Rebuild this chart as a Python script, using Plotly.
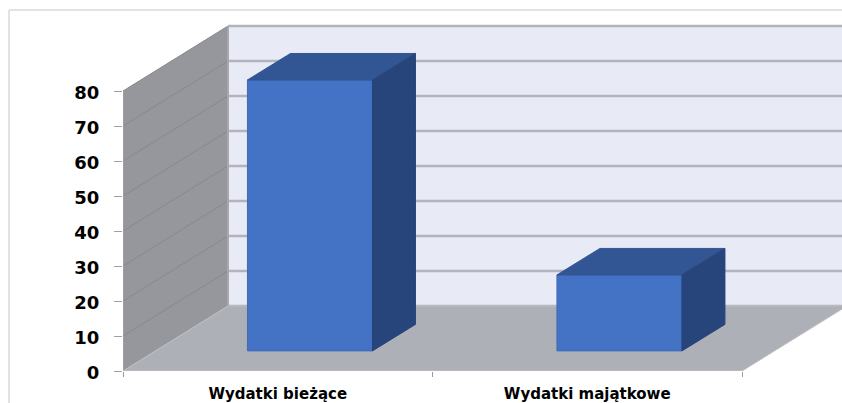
import plotly.graph_objects as go

categories = ["Wydatki bieżące", "Wydatki majątkowe"]
values = [77.4, 21.7]
y_ticks = [0, 10, 20, 30, 40, 50, 60, 70, 80]
x_edges = [0, 1, 2]
slots = [0.5, 1.5]

# Chart geometry in axis units
PX_X, PX_Y = 309.5, 3.5
W, H = 842, 403
ML, MB = 123, 32
WALL_DX, WALL_DY = 105 / PX_X, 65 / PX_Y
BAR_W = 125 / PX_X
BAR_SHIFT = 0.104
BAR_LIFT = 5.75
BAR_DX, BAR_DY = 43 / PX_X, 26.5 / PX_Y
XMAX = (W - ML) / PX_X
YMAX = (H - MB) / PX_Y
YTOP = y_ticks[-1]
FLOOR_R = x_edges[-1]

FRONT, TOP, SIDE = "#4472c4", "#325694", "#27457b"
BACK, GRID, SIDE_WALL, SIDE_GRID, FLOOR = "#e8eaf6", "#b3b4ba", "#96979c", "#87888c", "#aeb0b8"


def poly(pts):
    return "M " + " L ".join(f"{x} {y}" for x, y in pts) + " Z"


shapes = [
    dict(type="path", xref="x", yref="y", layer="below", line_width=0, fillcolor=BACK,
         path=poly([(WALL_DX, WALL_DY), (WALL_DX, YTOP + WALL_DY), (XMAX, YTOP + WALL_DY), (XMAX, WALL_DY)])),
    dict(type="path", xref="x", yref="y", layer="below", line_width=0, fillcolor=SIDE_WALL,
         path=poly([(0, 0), (0, YTOP), (WALL_DX, YTOP + WALL_DY), (WALL_DX, WALL_DY)])),
]
for t in y_ticks:
    if t > 0:
        shapes.append(dict(type="line", xref="x", yref="y", layer="below", x0=0, y0=t, x1=WALL_DX, y1=t + WALL_DY,
                           line=dict(color=SIDE_GRID, width=1)))
    shapes.append(dict(type="line", xref="x", yref="y", layer="below", x0=WALL_DX, y0=t + WALL_DY, x1=XMAX,
                       y1=t + WALL_DY, line=dict(color=GRID, width=2.5)))
shapes += [
    dict(type="path", xref="x", yref="y", layer="below", fillcolor=FLOOR, line=dict(color="#bdbdc2", width=1),
         path=poly([(0, 0), (WALL_DX, WALL_DY), (FLOOR_R + WALL_DX, WALL_DY), (FLOOR_R, 0)])),
    dict(type="line", xref="x", yref="y", layer="below", x0=WALL_DX, y0=WALL_DY, x1=WALL_DX, y1=YTOP + WALL_DY,
         line=dict(color="#a8a8ac", width=2)),
    dict(type="line", xref="x", yref="y", layer="below", x0=0, y0=0, x1=x_edges[-1], y1=0,
         line=dict(color="#b9b9bc", width=2)),
    dict(type="line", xref="x", yref="y", layer="below", x0=0, y0=0, x1=0, y1=YTOP,
         line=dict(color="#a8a8ac", width=1)),
]
# Outer chart frame
fx = lambda p: (p - ML) / (W - ML)
fy = lambda p: (H - MB - p) / (H - MB)
shapes += [
    dict(type="line", xref="paper", yref="paper", x0=fx(9), y0=fy(10), x1=1, y1=fy(10),
         line=dict(color="#d9d9d9", width=1.5)),
    dict(type="line", xref="paper", yref="paper", x0=fx(9), y0=fy(10), x1=fx(9), y1=fy(403),
         line=dict(color="#d9d9d9", width=1.5)),
]

fig = go.Figure()
centers = [s + BAR_SHIFT for s in slots]
fig.add_trace(go.Bar(x=centers, y=values, base=[BAR_LIFT] * len(values), width=BAR_W,
                     marker=dict(color=FRONT, line=dict(color="#3f6ab8", width=1)), showlegend=False))
for c, v in zip(centers, values):
    l, r = c - BAR_W / 2, c + BAR_W / 2
    b, t = BAR_LIFT, BAR_LIFT + v
    fig.add_trace(go.Scatter(x=[l, r, r + BAR_DX, l + BAR_DX, l], y=[t, t, t + BAR_DY, t + BAR_DY, t],
                             mode="lines", fill="toself", fillcolor=TOP, line=dict(color=TOP, width=1),
                             showlegend=False, hoverinfo="skip"))
    fig.add_trace(go.Scatter(x=[r, r + BAR_DX, r + BAR_DX, r, r], y=[b, b + BAR_DY, t + BAR_DY, t, b],
                             mode="lines", fill="toself", fillcolor=SIDE, line=dict(color=SIDE, width=1),
                             showlegend=False, hoverinfo="skip"))

fig.update_layout(
    width=W, height=H, autosize=False,
    margin=dict(l=ML, r=0, t=0, b=MB, pad=0, autoexpand=False),
    paper_bgcolor="white", plot_bgcolor="white",
    shapes=shapes,
    font=dict(family="DejaVu Sans", color="black"),
    xaxis=dict(range=[0, XMAX], tickmode="array", tickvals=slots, ticktext=categories,
               ticks="", showgrid=False, zeroline=False, showline=False, automargin=False,
               tickfont=dict(size=15, family="DejaVu Sans", weight="bold"),
               ticklabelstandoff=12,
               minor=dict(tickmode="array", tickvals=x_edges, ticks="outside", ticklen=5, tickcolor="#9a9a9a",
                          tickwidth=1, showgrid=False)),
    yaxis=dict(range=[0, YMAX], tickmode="array", tickvals=y_ticks, ticks="outside", ticklen=8, tickwidth=1,
               tickcolor="#a0a0a0", showgrid=False, zeroline=False, showline=False, automargin=False,
               tickfont=dict(size=18, family="DejaVu Sans", weight="bold"), ticklabelstandoff=11, ticklabelshift=2),
)
fig.write_html("out.html", config={"displayModeBar": False},
               post_script="document.body.style.margin='0';document.body.style.overflow='hidden';")
